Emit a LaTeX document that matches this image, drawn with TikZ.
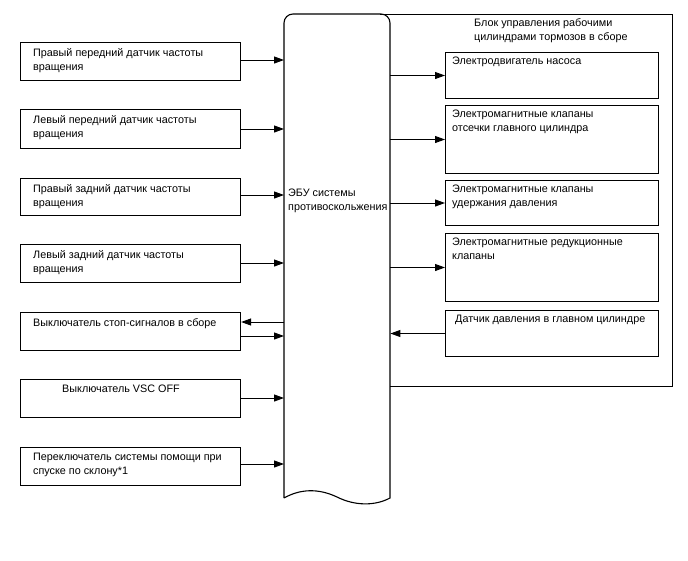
\documentclass[tikz,border=0pt]{standalone}
\usepackage{fontspec}
\setmainfont{Liberation Sans}
\usetikzlibrary{arrows.meta,calc}
\begin{document}
\begin{tikzpicture}[x=1pt,y=-1pt,
  box/.style={draw, line width=1.1pt, anchor=north west, inner sep=0pt, minimum width=220pt},
  rbox/.style={draw, line width=1pt, anchor=north west, inner sep=0pt, minimum width=213pt},
  lbl/.style={anchor=north west, align=left, inner sep=0pt, font=\fontsize{10.8}{14}\selectfont, xshift=13pt, yshift=-6pt},
  rlbl/.style={anchor=north west, align=left, inner sep=0pt, font=\fontsize{10.8}{14}\selectfont, xshift=7pt, yshift=-5pt},
  txt/.style={align=left, inner sep=0pt, font=\fontsize{10.8}{14}\selectfont},
  arr/.style={line width=1pt, -{Triangle[length=10pt,width=7pt]}},
  outline/.style={line width=1.1pt}
]
\useasboundingbox (0,0) rectangle (688,560);

% ECU
\node[minimum width=106pt, minimum height=484pt, anchor=north west, inner sep=0pt] (ecu) at (284,14) {};
\draw[outline] (284,498) [rounded corners=9pt] -- (284,14) -- (390,14) -- (390,480) [sharp corners] -- (390,498)
  .. controls (375,506) and (355,506) .. (337,497)
  .. controls (318,488) and (300,489) .. (284,498);
\node[txt, anchor=north west] (ecut) at (288,189) {ЭБУ системы\\противоскольжения};

% block
\node[minimum width=282pt, minimum height=372pt, anchor=north west, inner sep=0pt] (blk) at (390,14) {};
\draw[line width=1pt] (380,14) -- (blk.north east) -- (blk.south east) -- (blk.south west);
\node[txt, anchor=north west] (blkt) at (474,18) {Блок управления рабочими\\цилиндрами тормозов в сборе};

% left boxes
\node[box, minimum height=38pt, label={[lbl]north west:Правый передний датчик частоты\\вращения}] (l1) at (20,42) {};
\node[box, minimum height=39pt, label={[lbl]north west:Левый передний датчик частоты\\вращения}] (l2) at (20,109) {};
\node[box, minimum height=37pt, label={[lbl]north west:Правый задний датчик частоты\\вращения}] (l3) at (20,178) {};
\node[box, minimum height=38pt, label={[lbl]north west:Левый задний датчик частоты\\вращения}] (l4) at (20,244) {};
\node[box, minimum height=38pt, label={[lbl]north west:Выключатель стоп-сигналов в сборе}] (l5) at (20,312) {};
\node[box, minimum height=38pt, label={[lbl,xshift=29pt]north west:Выключатель VSC OFF}] (l6) at (20,379) {};
\node[box, minimum height=38pt, label={[lbl]north west:Переключатель системы помощи при\\спуске по склону*1}] (l7) at (20,447) {};

% right boxes
\node[rbox, minimum height=46pt, label={[rlbl]north west:Электродвигатель насоса}] (r1) at (445,52) {};
\node[rbox, minimum height=68pt, label={[rlbl]north west:Электромагнитные клапаны\\отсечки главного цилиндра}] (r2) at (445,105) {};
\node[rbox, minimum height=45pt, label={[rlbl]north west:Электромагнитные клапаны\\удержания давления}] (r3) at (445,180) {};
\node[rbox, minimum height=68pt, label={[rlbl]north west:Электромагнитные редукционные\\клапаны}] (r4) at (445,233) {};
\node[rbox, minimum height=46pt, label={[rlbl,xshift=3pt]north west:Датчик давления в главном цилиндре}] (r5) at (445,310) {};

% left arrows
\draw[arr] (l1.east |- 0,60) -- (ecu.west |- 0,60);
\draw[arr] (l2.east |- 0,129) -- (ecu.west |- 0,129);
\draw[arr] (l3.east |- 0,195) -- (ecu.west |- 0,195);
\draw[arr] (l4.east |- 0,263) -- (ecu.west |- 0,263);
\draw[arr] (ecu.west |- 0,322) -- (l5.east |- 0,322);
\draw[arr] (l5.east |- 0,336) -- (ecu.west |- 0,336);
\draw[arr] (l6.east |- 0,398) -- (ecu.west |- 0,398);
\draw[arr] (l7.east |- 0,464) -- (ecu.west |- 0,464);

% right arrows
\draw[arr] (ecu.east |- r1.west) -- (r1.west);
\draw[arr] (ecu.east |- r2.west) -- (r2.west);
\draw[arr] (ecu.east |- r3.west) -- (r3.west);
\draw[arr] (ecu.east |- r4.west) -- (r4.west);
\draw[arr] (r5.west) -- (ecu.east |- r5.west);
\end{tikzpicture}
\end{document}
